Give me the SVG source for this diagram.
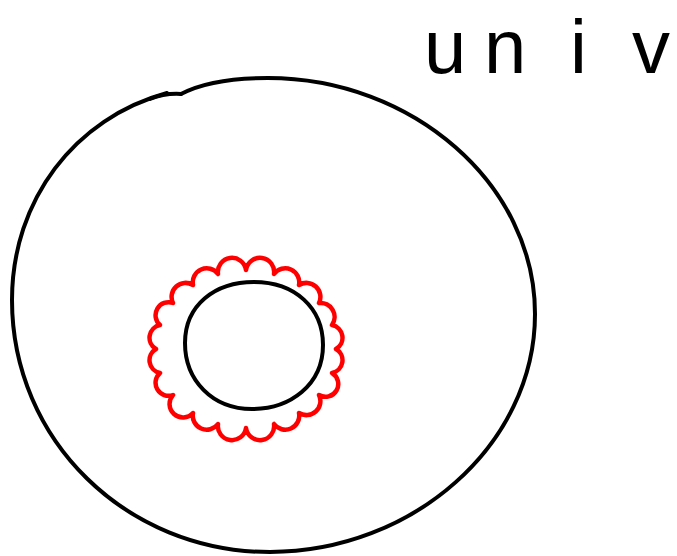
<svg xmlns="http://www.w3.org/2000/svg" width="677" height="556" viewBox="0 0 677 556">
<style>
.ink{fill:none;stroke:#000;stroke-width:4;stroke-linecap:round;stroke-linejoin:round}
.red{fill:none;stroke:#ff0000;stroke-width:4.5;stroke-linecap:round;stroke-linejoin:round}
.hand{font-family:"Liberation Sans",sans-serif;font-size:76px;fill:#000}
</style>
<rect width="677" height="556" fill="#fff"/>
<g id="label"><text class="hand" x="424 484 570 632" y="73">univ</text></g>
<g id="outer">
<path class="ink" d="M181 94 C200 84 230 78 268 78 C412 78 535 184 535 314 C535 445 412 552 270 552 C126 552 12 440 12 300 C12 200 75 118 167 93"/>
<path class="ink" d="M150 99 Q165 93 181 94"/>
</g>
<g id="ring">
<path class="red" d="M246 270 A14 14 0 0 1 274 274 A14 14 0 0 1 299 285 A14 14 0 0 1 319 303 A14 14 0 0 1 332 325 A13 13 0 0 1 336 349 A13 13 0 0 1 332 373 A12 12 0 0 1 319 395 A14 14 0 0 1 299 413 A14 14 0 0 1 274 424 A14 14 0 0 1 246 428 A14 14 0 0 1 218 424 A14 14 0 0 1 193 413 A13 13 0 0 1 173 395 A13 13 0 0 1 160 373 A13 13 0 0 1 156 349 A13 13 0 0 1 160 325 A13 13 0 0 1 173 303 A14 14 0 0 1 193 285 A14 14 0 0 1 218 274 A14 14 0 0 1 246 270"/>
</g>
<g id="inner">
<path class="ink" d="M254 282 C295 282 323 308 323 345 C323 385 290 409 252 409 C212 409 185 380 185 343 C185 305 215 282 254 282 Z"/>
</g>
</svg>
